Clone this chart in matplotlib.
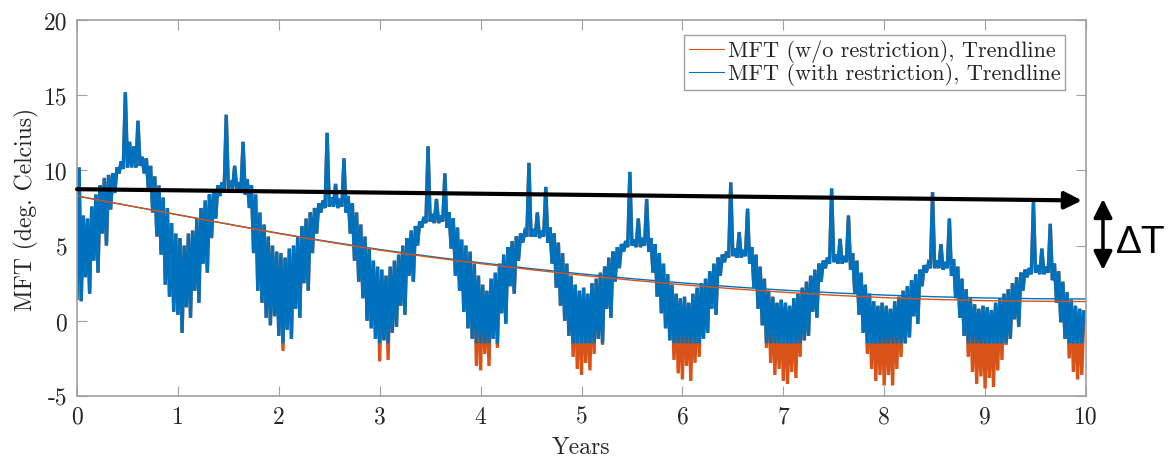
import numpy as np
import matplotlib
matplotlib.use('Agg')
from matplotlib import pyplot as plt

# samples per year of the daily MFT signal (high/low envelope of each half-month)
samples_per_year = 24

# upper envelope, shared by both simulations (year 0 .. year 9, 24 values each)
mft_high = [
    10.2, 7.0, 6.8, 7.6, 8.4, 9.0, 9.5, 9.7, 9.8, 10.2, 10.6, 15.2, 11.9, 11.6, 13.3, 10.9, 10.8, 10.3, 9.6, 9.0, 8.2, 7.5, 6.5, 5.8,
    5.5, 5.0, 5.8, 6.0, 6.8, 7.5, 8.0, 8.4, 8.6, 9.0, 9.2, 13.7, 9.3, 10.3, 9.2, 11.9, 9.4, 9.0, 8.4, 7.2, 6.4, 5.6, 5.0, 4.6,
    4.5, 4.2, 4.8, 5.0, 5.6, 6.3, 6.8, 7.2, 7.5, 7.8, 8.0, 12.5, 8.2, 9.1, 8.1, 10.8, 8.3, 7.8, 7.2, 6.4, 5.6, 4.8, 4.0, 3.6,
    3.4, 3.0, 3.6, 4.0, 4.4, 5.0, 5.5, 6.0, 6.3, 6.6, 6.9, 11.6, 7.1, 8.1, 7.0, 9.8, 7.2, 6.8, 6.2, 5.4, 5.0, 4.6, 3.8, 3.0,
    2.4, 2.0, 2.8, 3.2, 3.8, 4.4, 4.9, 5.3, 5.6, 5.8, 5.9, 10.5, 6.1, 7.2, 6.0, 8.9, 6.2, 5.8, 5.2, 4.5, 3.8, 3.0, 2.4, 2.0,
    2.2, 1.8, 2.5, 2.8, 3.2, 3.6, 4.2, 4.6, 4.9, 5.1, 5.3, 9.9, 5.4, 6.8, 5.3, 8.1, 5.5, 5.1, 4.5, 3.8, 3.1, 2.4, 1.8, 1.5,
    1.6, 1.2, 1.8, 2.2, 2.5, 2.8, 3.3, 3.8, 4.2, 4.4, 4.6, 9.2, 4.8, 5.9, 4.7, 7.45, 4.9, 4.4, 3.6, 2.8, 2.0, 1.6, 1.2, 1.4,
    1.2, 1.0, 1.5, 1.8, 2.2, 2.6, 3.0, 3.4, 3.8, 4.0, 4.2, 8.8, 4.4, 5.45, 4.3, 7.0, 4.5, 4.0, 3.2, 2.4, 1.8, 1.3, 1.0, 1.2,
    1.0, 0.8, 1.3, 1.6, 2.0, 2.3, 2.7, 3.1, 3.4, 3.7, 3.8, 8.55, 4.0, 5.1, 3.9, 6.8, 4.1, 3.6, 2.8, 2.1, 1.5, 1.1, 0.8, 1.0,
    0.9, 0.7, 1.2, 1.5, 1.8, 2.1, 2.5, 2.9, 3.2, 3.4, 3.5, 7.9, 3.7, 4.8, 3.6, 6.45, 3.8, 3.3, 2.6, 1.9, 1.4, 1.0, 0.8, 0.6,
]

# lower envelope without restriction
mft_low_free = [
    1.5, 1.3, 2.9, 1.8, 4.0, 3.2, 5.8, 5.0, 7.4, 8.5, 9.8, 10.1, 10.2, 10.2, 10.2, 10.3, 9.8, 8.6, 7.2, 5.6, 4.4, 2.4, 1.6, 0.6,
    0.4, -0.8, 0.9, 0.2, 2.0, 1.2, 3.8, 3.2, 5.5, 6.8, 8.3, 8.7, 8.8, 8.8, 8.8, 8.7, 8.4, 7.5, 4.5, 2.0, 1.2, 0.2, -0.3, 0.3,
    -1.0, -2.0, -0.6, -1.2, 0.8, 0.2, 2.5, 2.0, 4.5, 5.8, 7.2, 7.5, 7.6, 7.6, 7.5, 7.6, 7.2, 5.8, 4.0, 2.6, 1.5, 0.0, -0.5, -1.2,
    -2.7, -1.3, -2.6, -0.8, -0.4, 1.0, 0.4, 3.0, 2.6, 5.0, 6.2, 6.5, 6.6, 6.5, 6.5, 6.6, 6.2, 4.8, 3.0, 2.0, 0.6, -0.5, -1.2, -3.0,
    -3.3, -2.2, -3.0, -1.2, -1.8, 0.5, -0.2, 2.3, 1.8, 4.0, 5.2, 5.6, 5.6, 5.6, 5.5, 5.6, 5.2, 3.8, 2.2, 1.0, 0.0, -1.0, -2.4, -3.2,
    -3.6, -2.8, -3.3, -2.2, -1.2, -1.6, 0.8, 0.2, 2.6, 3.5, 4.6, 4.9, 5.0, 4.9, 4.9, 5.0, 4.6, 3.2, 1.6, 0.5, -0.5, -1.3, -2.6, -3.5,
    -3.9, -3.0, -4.0, -2.8, -2.4, -1.2, -0.8, 0.8, 0.4, 3.0, 3.9, 4.2, 4.3, 4.2, 4.2, 4.3, 3.8, 2.2, 0.8, -0.3, -1.8, -2.8, -3.6, -3.2,
    -4.0, -4.2, -3.4, -3.8, -2.4, -1.3, -1.0, 0.6, 0.2, 2.6, 3.5, 3.8, 3.9, 3.8, 3.8, 3.9, 3.4, 1.8, 0.4, -0.8, -2.2, -3.2, -4.0, -3.6,
    -4.3, -3.6, -4.3, -3.2, -2.4, -1.5, -1.1, 0.3, -0.2, 2.3, 3.2, 3.5, 3.5, 3.5, 3.4, 3.5, 3.0, 1.5, 0.2, -1.0, -2.4, -3.4, -4.2, -3.7,
    -4.5, -3.8, -4.4, -3.3, -2.6, -1.6, -1.2, 0.1, -0.4, 2.0, 2.9, 3.1, 3.2, 3.1, 3.1, 3.2, 2.7, 1.2, -0.1, -1.2, -2.5, -3.4, -3.9, -3.6,
]

# lower envelope with restriction (flat at -1.5 deg)
mft_low_restricted = [
    1.5, 1.3, 2.9, 1.8, 4.0, 3.2, 5.8, 5.0, 7.4, 8.5, 9.8, 10.1, 10.2, 10.2, 10.2, 10.3, 9.8, 8.6, 7.2, 5.6, 4.4, 2.4, 1.6, 0.6,
    0.4, -0.8, 0.9, 0.2, 2.0, 1.2, 3.8, 3.2, 5.5, 6.8, 8.3, 8.7, 8.8, 8.8, 8.8, 8.7, 8.4, 7.5, 4.5, 2.0, 1.2, 0.2, -0.3, 0.3,
    -1.0, -1.5, -0.6, -1.2, 0.8, 0.2, 2.5, 2.0, 4.5, 5.8, 7.2, 7.5, 7.6, 7.6, 7.5, 7.6, 7.2, 5.8, 4.0, 2.6, 1.5, 0.0, -0.5, -1.2,
    -1.5, -1.3, -1.5, -0.8, -0.4, 1.0, 0.4, 3.0, 2.6, 5.0, 6.2, 6.5, 6.6, 6.5, 6.5, 6.6, 6.2, 4.8, 3.0, 2.0, 0.6, -0.5, -1.2, -1.5,
    -1.5, -1.5, -1.5, -1.2, -1.5, 0.5, -0.2, 2.3, 1.8, 4.0, 5.2, 5.6, 5.6, 5.6, 5.5, 5.6, 5.2, 3.8, 2.2, 1.0, 0.0, -1.0, -1.5, -1.5,
    -1.5, -1.5, -1.5, -1.5, -1.2, -1.5, 0.8, 0.2, 2.6, 3.5, 4.6, 4.9, 5.0, 4.9, 4.9, 5.0, 4.6, 3.2, 1.6, 0.5, -0.5, -1.3, -1.5, -1.5,
    -1.5, -1.5, -1.5, -1.5, -1.5, -1.2, -0.8, 0.8, 0.4, 3.0, 3.9, 4.2, 4.3, 4.2, 4.2, 4.3, 3.8, 2.2, 0.8, -0.3, -1.5, -1.5, -1.5, -1.5,
    -1.5, -1.5, -1.5, -1.5, -1.5, -1.3, -1.0, 0.6, 0.2, 2.6, 3.5, 3.8, 3.9, 3.8, 3.8, 3.9, 3.4, 1.8, 0.4, -0.8, -1.5, -1.5, -1.5, -1.5,
    -1.5, -1.5, -1.5, -1.5, -1.5, -1.5, -1.1, 0.3, -0.2, 2.3, 3.2, 3.5, 3.5, 3.5, 3.4, 3.5, 3.0, 1.5, 0.2, -1.0, -1.5, -1.5, -1.5, -1.5,
    -1.5, -1.5, -1.5, -1.5, -1.5, -1.5, -1.2, 0.1, -0.4, 2.0, 2.9, 3.1, 3.2, 3.1, 3.1, 3.2, 2.7, 1.2, -0.1, -1.2, -1.5, -1.5, -1.5, -1.5,
]

# trendlines, read every half year
trend_years = [0, 0.5, 1, 1.5, 2, 2.5, 3, 3.5, 4, 4.5, 5, 5.5, 6, 6.5, 7, 7.5, 8, 8.5, 9, 9.5, 10]
trend_free = [8.3, 7.67, 7.05, 6.42, 5.8, 5.23, 4.7, 4.23, 3.8, 3.4, 3.03, 2.7, 2.4, 2.13, 1.9, 1.7, 1.54, 1.42, 1.34, 1.3, 1.28]
trend_restricted = [8.3, 7.67, 7.05, 6.43, 5.82, 5.26, 4.74, 4.28, 3.86, 3.47, 3.12, 2.8, 2.52, 2.26, 2.04, 1.86, 1.71, 1.6, 1.52, 1.47, 1.45]

# the black delta-T marker line
delta_start = 8.75
delta_end = 8.0

labels = ['MFT (w/o restriction), Trendline', 'MFT (with restriction), Trendline']
blue = '#0072BD'
orange = '#D95319'
axis_grey = '#a0a0a0'

plt.rcParams['font.family'] = 'cmr10'
plt.rcParams['mathtext.fontset'] = 'cm'
plt.rcParams['axes.unicode_minus'] = False


def zigzag(low, high):
    # each half-month drawn as low -> high stroke, like the dense daily signal
    t = np.arange(len(low)) / samples_per_year
    x = np.empty(2 * len(low))
    y = np.empty(2 * len(low))
    x[0::2] = t
    x[1::2] = t + 0.5 / samples_per_year
    y[0::2] = low
    y[1::2] = high
    return x, y


fig = plt.figure(figsize=(11.69, 4.6), dpi=100)
ax = fig.add_axes([77 / 1169, 63 / 460, 1009 / 1169, 376 / 460])

x_free, y_free = zigzag(mft_low_free, mft_high)
x_res, y_res = zigzag(mft_low_restricted, mft_high)
ax.plot(x_free, y_free, color=orange, lw=2.4, solid_joinstyle='miter')
ax.plot(x_res, y_res, color=blue, lw=2.4, solid_joinstyle='miter')
ax.plot(trend_years, trend_restricted, color=blue, lw=1.0)
ax.plot(trend_years, trend_free, color=orange, lw=1.0)

ax.set_xlim(0, 10)
ax.set_ylim(-5, 20)
ax.set_xticks(range(0, 11))
ax.set_yticks([-5, 0, 5, 10, 15, 20])
ax.tick_params(direction='in', length=7, width=0.8, color=axis_grey, labelcolor='#262626',
               labelsize=17, top=True, right=True, pad=7)
for s in ax.spines.values():
    s.set_color(axis_grey)
    s.set_linewidth(1.2)

ax.set_xlabel('Years', fontsize=17, color='#262626')
ax.set_ylabel('MFT (deg. Celcius)', fontsize=17, color='#262626')
ax.xaxis.set_label_coords(0.5, -0.105)
ax.yaxis.set_label_coords(-0.038, 0.5)

leg_handles = [plt.Line2D([], [], color=orange, lw=0.8), plt.Line2D([], [], color=blue, lw=0.8)]
leg = ax.legend(leg_handles, labels, loc='upper right', bbox_to_anchor=(0.979, 0.960),
                borderaxespad=0, fontsize=16, frameon=True, fancybox=False,
                edgecolor=axis_grey, framealpha=1, handlelength=1.6, handletextpad=0.15,
                labelspacing=0.0, borderpad=0.2)
leg.get_frame().set_linewidth(1.0)
for t in leg.get_texts():
    t.set_color('#262626')

# delta T annotation
ax.annotate('', xy=(9.96, delta_end), xytext=(0, delta_start),
            arrowprops=dict(arrowstyle='-|>', lw=3, color='k', mutation_scale=26,
                            shrinkA=0, shrinkB=0), annotation_clip=False)
ax.annotate('', xy=(1103, 460 - 200), xytext=(1103, 460 - 271), xycoords='figure pixels',
            textcoords='figure pixels',
            arrowprops=dict(arrowstyle='<|-|>', lw=2.5, color='k', mutation_scale=28,
                            shrinkA=0, shrinkB=0))
fig.text(1116 / 1169, 1 - 243 / 460, '\u0394T', fontsize=28, family='Liberation Sans',
         ha='left', va='center', color='k')

fig.savefig('out.png', dpi=100)
